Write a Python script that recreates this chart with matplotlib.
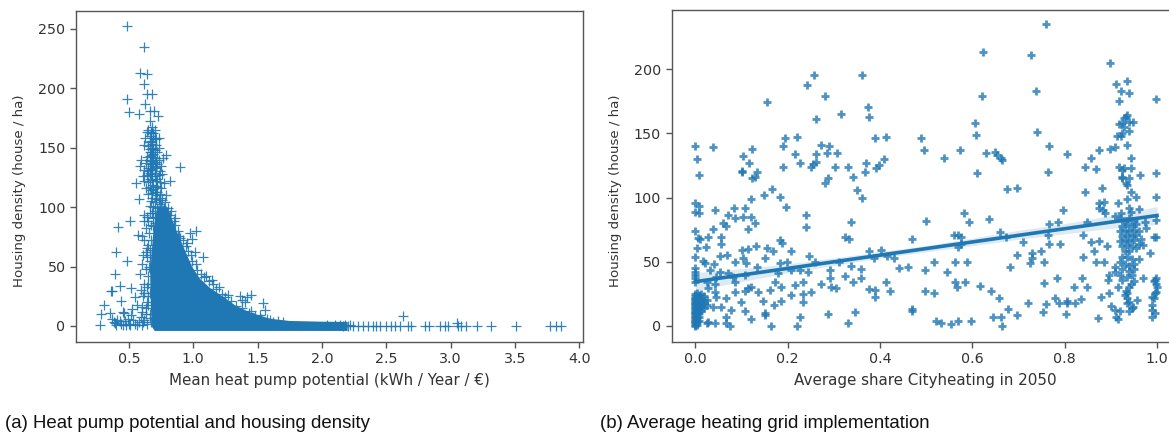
#! /usr/bin/env python

import numpy as np
import matplotlib
matplotlib.use("Agg")
import matplotlib.pyplot as plt

# ---- left chart, values (potential, density)
left_outliers = [
    (.485,252),(.614,234.6),(.588,212.5),(.64,211.7),(.614,203.5),(.485,191),(.64,195),(.676,195),
    (.622,187),(.498,179.7),(.578,178),(.661,181),(.697,181),(.726,177),(.661,172.7),(.64,163),
    (.674,162),(.622,158),(.733,158),(.7,158),(.614,152),(.661,155),(.785,144),(.661,146.6),
    (.687,149),(.765,141),(.899,133.7),(.596,139.6),(.588,135),(.557,120.5),(.817,122),(.578,106.8),
    (.79,110),(.615,93),(.51,88.6),(.417,83.5),(.57,76.5),(.402,62),(.485,55),(.392,44),(.583,44),
    (.428,34),(.363,29.7),(.368,29),(.519,31.7),(.545,24.7),(.44,21.3),(.306,17.7),(.285,9.8),
    (.454,12),(.465,11),(.35,10.7),(.272,.8),(.389,2.2),(.474,.8),(.519,9.2),(.596,7.8),(.61,25),
    (.636,15),(1.019,80),(.972,78),(.993,73),(1.01,62.5),(1.076,57.7),(1.148,38.7),(1.361,25),
    (1.38,22),(1.452,26),(1.42,24),(1.543,19),(1.556,13.5),(1.4,20),(.37,6),(.4,1),(.43,4),(.45,1),
    (.5,2),(.53,5),(.55,2),(.58,3),(.6,1),(.62,5),(.64,2),(.66,7),(.52,14),(.56,18),(.6,16),(.59,30),
    (.62,35),(.6,52),(.63,48),(.65,42),(.61,60),(.64,58),(.66,55),(.62,72),(.65,68),(.6,76),(.63,82),
    (.655,78),(.64,92),(.62,88),(.66,95),(.38,3),(.41,5),(.44,2),(.47,4),(.49,6),(.51,1),(.56,1),(.61,3),
    (.63,10),(.6,12),(.64,20),(.62,28),(.64,33),(.65,25),(.63,62),(.64,66),(.66,64),(.66,48),(.65,88),
]
left_column = [
    (.62,131),(.65,133),(.68,131),(.71,133),(.74,130),(.61,126),(.64,127),(.67,128),(.7,126),(.73,127),
    (.76,128),(.62,122),(.65,121),(.68,123),(.71,122),(.74,121),(.77,120),(.63,116),(.66,117),(.69,115),
    (.72,117),(.75,116),(.65,111),(.68,112),(.71,110),(.74,111),(.64,142),(.67,140),(.7,141),(.73,140),
    (.63,137),(.66,136),(.69,137),(.72,136),(.75,135),(.65,151),(.68,150),(.71,152),(.67,156),(.69,145),
    (.72,146),(.66,160),(.69,162),(.65,165),(.68,167),(.71,157),(.73,150),(.67,105),(.7,104),(.73,106),
    (.66,101),(.69,100),(.72,99),(.75,101),(.78,104),(.8,99),(.82,93),(.85,88),(.88,80),(.9,74),(.94,67),
    (.98,60),(1.02,52),(1.06,44),(1.12,38),(1.18,31),(1.25,24),(1.33,17),(1.43,11),(1.53,6),(1.62,3.5),
    (.66,129),(.68,126),(.7,129),(.72,124),(.66,124),(.69,119),(.71,118),(.67,114),(.7,113),(.72,113),
    (.68,108),(.71,107),(.74,108),(.76,106),(.66,139),(.68,135),(.7,134),(.67,132),(.65,130),(.69,142),
    (.71,138),(.67,146),(.7,148),(.68,144),(.66,143),(.68,153),(.66,149),(.69,158),(.67,163),(.7,165),
    (.74,103),(.77,99),(.79,95),(.83,97),(.86,85),(.89,76),(.7,97),(.68,95),(.7,92),(.67,85),(.69,84),
    (.92,72),(.96,63),(.99,55),(1.03,47),(1.08,41),(1.15,35),(1.22,27),(1.29,21),(1.38,15),(1.48,8),
    (.67,72),(.66,60),(.655,50),(.65,35),(.66,28),(.65,18),(.66,10),(.67,3),(.69,91),(.7,87),
    (1.57,6),(1.66,4),(1.6,5),(1.7,3),(1.45,13),(1.52,9),(1.27,26),(1.2,33),(1.1,42),(.95,70),(.86,91),
]
left_tail = [
    (2.04,1),(2.1,.5),(2.14,1),(2.164,0),(2.203,0),(2.18,1),(2.22,.5),
    (2.242,0),(2.28,0),(2.32,0),(2.358,0),(2.397,0),(2.423,0),(2.454,0),(2.5,0),(2.54,0),(2.566,0),
    (2.605,0),(2.67,0),(2.695,0),(2.799,0),(2.833,0),(2.916,0),(2.954,0),(2.98,0),(3.058,0),(3.084,0),
    (3.118,0),(3.209,0),(3.317,0),(3.507,0),(3.776,0),(3.823,0),(3.862,0),(2.63,8.4),(3.053,2.8),
]
# the markers overlap completely here, so the solid core is drawn as its outline
core_x = [.70,2.2,2.2,2.0,1.75,1.6,1.45,1.33,1.24,1.13,1.05,.99,.93,.87,.8,.72,.69,.675,.665,.67,.68]
core_y = [-4.2,-4.2,3.4,3.6,4.2,6,11,17,24,32,40,50,65,80,100,100,80,60,40,15,-1]

# ---- right chart, values (share, density)
right_pts = [
    (.256,195.6),(.242,187.5),(.361,195.6),(.281,179),(.156,174),(.374,170.7),(.315,165),(.377,162.6),
    (.262,161),(.193,146),(.219,147),(.39,146),(.413,147),(0,140),(.038,139),(.189,140),(.123,138),
    (.271,141),(.289,140),(.262,134),(.284,135),(.216,134),(.307,135),(.104,132),(.004,130),(.116,127),
    (.226,127),(.262,128),(.255,126),(.37,127),(.409,130),(.1,121),(.1,120),(.134,120),(.13,116),
    (.123,115),(.189,123.5),(.251,124),(.302,123.5),(.331,123.5),(.367,120),(.392,122.7),(.398,125),
    (.008,117.5),(.287,115.4),(.341,116),(.281,111),(.351,106),(.361,100),(.166,106.6),(.149,102),
    (.183,100.6),(.12,99),(0,95.5),(.008,93.6),(0,89),(.008,88),(.043,90.5),(.084,92),(.107,92),
    (.196,92.6),(.071,86),(.086,84),(.103,85),(.12,85),(.239,86),(.239,77),(.338,81),(.06,80),(.066,78),
    (.128,80),(.114,75.5),(.038,75.5),(0,74),(.006,68.7),(.009,68),(.027,69),(.055,69),(.055,64),
    (.183,67),(.187,64.6),(.323,69),(.333,67.7),(.469,67.7),(.022,61.7),(.004,60.4),(.101,59),(.114,60),
    (.132,62),(.154,61),(.168,58),(.206,58),(.375,58),(.401,59),(0,54),(.053,54.5),(.069,55),(.103,52.7),
    (.15,53),(.245,54.5),(.416,54.5),(.431,53),(.017,50.6),(.02,48.8),(.04,48),(.085,49.5),(.11,48.8),
    (.183,48.8),(.199,50),(.258,49.5),(.312,49.5),(.387,52.7),(.134,46),(.338,47),(.359,44),(.442,45),
    (.46,46),(0,44.9),(0,42.3),(0,39.7),(0,37),(0,34.5),(.031,43.6),(.053,42.3),(.071,41),(.107,39.7),
    (.179,41),(.208,43.6),(.226,43.6),(.244,42.3),(.291,43.6),(.325,39),(.292,37),(.359,37),(.045,38.4),
    (.082,38.4),(.024,34.5),(.042,33),(.085,34.5),(.121,30.6),(.172,34),(.233,34.5),(.341,34),(.413,34.5),
    (.113,29.3),(.186,30.6),(.161,28),(.215,32),(.271,32.4),(.294,30.6),(.305,29.3),(.377,28.8),(.421,27.5),
    (.388,28),(.042,26.7),(.085,26.7),(.027,29.3),(.136,26.2),(.208,24),(.251,26.2),(.389,22.8),(.233,24.6),
    (.107,27),(.067,22),(.045,22.8),(.098,19),(.146,19.5),(.185,19.5),(.233,19),(.17,16.3),(.039,14.5),
    (.056,15),(.078,12.5),(.107,11.7),(.15,8.6),(.15,9.9),(.287,9.6),(.345,11),(.226,7.3),(.47,13),(.47,11.7),
    (.066,7.3),(.027,3.4),(.024,2.6),(.043,2.6),(.121,5.2),(.33,2.6),(.067,2),(.074,.3),(.163,.3),(.219,.3),
    (.76,234.8),(.624,213.5),(.727,211),(.898,205),(.935,191),(.911,188.6),(.923,183),(.939,181),(.621,179),
    (.737,182.6),(.997,177),(.918,175),(.935,164),(.933,163),(.929,161.6),(.939,159),(.947,159),(.605,158),
    (.918,157),(.925,157.7),(.929,155),(.608,149),(.739,151),(.94,152),(.925,150),(.913,148),(.922,148),
    (.489,146),(.496,136.7),(.766,140),(.935,141),(.908,139),(.899,137.5),(.875,136.7),(.574,136.7),
    (.63,135),(.648,135.7),(.806,134),(.654,133),(.661,131),(.665,129.5),(.539,130.5),(.856,130.5),(.944,131),
    (.845,123.5),(.868,122.4),(.918,123.5),(.929,122.7),(.925,121.4),(.944,122.7),(.611,119),(.763,120),
    (.964,117.5),(.997,119),(.925,116),(.94,115.4),(.674,107),(.697,107.7),(.845,104.5),(.881,107.7),
    (.925,115),(.936,110),(.933,111),(.944,104.5),(.954,100.6),(.997,100.6),(.936,99),(.875,96),(.886,96.8),
    (.875,91.6),(.883,90),(.915,95.5),(.94,91.6),(.944,89),(.962,90.8),(.796,90.5),(.887,87.7),(.908,85.9),
    (.922,87.7),(.582,88),(.635,83),(.499,82),(.592,81),(.786,81),(.766,79),(.848,81),(.973,81),(.998,82.5),
    (.659,73),(.56,71),(.569,71),(.575,69.5),(.673,69),(.763,71),(.839,71),(.976,76),(.998,69.5),(.993,69.5),
    (.709,65.6),(.569,61.7),(.576,63.5),(.766,64),(.789,64),(.857,65.6),(.875,66),(.892,62),(.864,58),(.969,63),
    (.984,57),(.749,58),(.729,56.5),(.697,55),(.839,53.7),(.516,49.8),(.562,49.8),(.588,49.8),(.729,52.7),
    (.724,48.8),(.756,49.5),(.868,49.8),(.886,49.5),(.681,46),(.498,43.6),(.545,41.8),(.908,42.3),(.897,39.7),
    (.783,37),(.838,37),(.756,33.7),(.893,35.8),(.585,34.5),(.563,34),(.567,30.6),(.616,31),(.97,37),(.996,35.8),
    (.998,33),(.944,33),(.821,30),(.849,30),(.498,27.5),(.516,26),(.641,27.5),(.933,27.5),(.936,25.4),(.998,26.7),
    (.897,25.4),(.879,22.8),(.657,21.5),(.72,18),(.76,17),(.778,22),(.787,17.6),(.805,19.5),(.805,17.6),(.823,17.6),
    (.836,20.8),(.99,22.8),(.957,20),(.936,17.6),(.947,15),(.9,15.6),(.908,12.5),(.919,11.7),(.677,13.2),(.753,11),
    (.803,9.6),(.697,8.6),(.989,12.5),(.644,7.3),(.661,7.3),(.872,6),(.911,7.3),(.915,5.4),(.989,7.3),(.522,4.1),
    (.533,2.6),(.554,1.6),(.569,4.1),(.597,4.1),(.664,0),
]
right_cluster = [
    (.92,84),(.93,82),(.94,84),(.95,82),(.925,78),(.935,79),(.945,78),(.955,79),(.92,74),(.93,75),(.94,74),(.95,75),
    (.96,74),(.925,70),(.935,71),(.945,70),(.955,71),(.965,68),(.92,66),(.93,67),(.94,66),(.95,67),(.96,64),(.925,62),
    (.935,63),(.945,62),(.955,61),(.93,58),(.94,58),(.925,54),(.935,54),(.945,52),(.92,50),(.93,48),(.94,47),(.95,48),
    (.96,52),(.91,46),(.925,44),(.94,43),(.95,44),(.92,40),(.935,38),(.945,40),(.95,35),(.925,36),(.94,30),(.935,22),
    (.94,19),(.93,24),(.94,12),(.945,14),(.915,30),(.997,37),(.994,35),(.999,30),(.995,26),(.993,22),(.99,16),(.996,10),
]
right_zero = [
    (0,0),(0,1),(0,2),(0,3),(0,4),(0,5),(0,6),(0,7),(0,8),(0,9),(0,10),(0,11),(0,12),(0,13),(0,14),(0,15),(0,16),
    (0,17),(0,18),(0,19),(0,20),(0,21),(0,22),(0,23),(0,25),
    (.004,1),(.004,3),(.004,5),(.004,7),(.004,9),(.004,11),(.004,13),(.004,15),(.004,17),(.004,19),(.004,21),(.004,23),(.004,26),
    (.008,4),(.008,7),(.008,10),(.008,13),(.008,16),(.008,19),(.008,22),(.008,24),
    (.013,12),(.013,15),(.013,18),(.013,21),(.013,25),(.018,14),(.018,17),(.018,20),(.018,23),(.024,16),(.024,20),
]
reg_x = [0,1]
reg_y = [34.5,86]
band_x = [0,.1,.2,.3,.4,.5,.6,.7,.8,.9,1]
band_lo = [27.5,34.6,41.3,47,52.9,57.7,62.4,67.5,71.7,76,79]
band_hi = [41.5,44.6,48.3,53,57.9,62.7,68.4,74.5,79.7,86,93]

x_ticks_a = [0.5,1.0,1.5,2.0,2.5,3.0,3.5,4.0]
y_ticks_a = [0,50,100,150,200,250]
x_ticks_b = [0.0,0.2,0.4,0.6,0.8,1.0]
y_ticks_b = [0,50,100,150,200]

W, H = 1169, 432
blue = "#1f77b4"
grey = "#333333"
plt.rcParams["font.family"] = ["DejaVu Sans"]

fig = plt.figure(figsize=(W/100, H/100), dpi=100)


def make_axes(left, right, top, bottom):
    ax = fig.add_axes([left/W, 1-bottom/H, (right-left)/W, (bottom-top)/H])
    for s in ax.spines.values():
        s.set_color("#555555")
        s.set_linewidth(1.0)
    ax.tick_params(labelsize=10.3, colors=grey, length=4, width=1.0, color="#555555")
    return ax


ax1 = make_axes(76, 583, 11, 342)
ax1.fill(core_x, core_y, color=blue, lw=0)
pts = np.array(left_outliers+left_column+left_tail)
ax1.scatter(pts[:,0], pts[:,1], marker="+", s=52, linewidths=0.9, color=blue, alpha=0.9)
ax1.set_xlim(0.088, 4.03)
ax1.set_ylim(-13.5, 265)
ax1.set_xticks(x_ticks_a)
ax1.set_yticks(y_ticks_a)

ax2 = make_axes(671.5, 1181, 10, 342)
pts = np.array(right_pts+right_cluster+right_zero)
ax2.scatter(pts[:,0], pts[:,1], marker="+", s=36, linewidths=2.0, color=blue, alpha=0.8)
ax2.fill_between(band_x, band_lo, band_hi, color=blue, alpha=0.15, lw=0)
ax2.plot(reg_x, reg_y, color=blue, lw=2.6)
ax2.set_xlim(-0.052, 1.052)
ax2.set_ylim(-12.5, 246)
ax2.set_xticks(x_ticks_b)
ax2.set_yticks(y_ticks_b)

fig.text(329/W, 1-380/H, "Mean heat pump potential (kWh / Year / €)", ha="center", va="center", fontsize=10.9, color=grey)
fig.text(925/W, 1-380/H, "Average share Cityheating in 2050", ha="center", va="center", fontsize=10.9, color=grey)
fig.text(20/W, 1-191/H, "Housing density (house / ha)", rotation=90, ha="center", va="center", fontsize=9.6, color=grey)
fig.text(615/W, 1-191/H, "Housing density (house / ha)", rotation=90, ha="center", va="center", fontsize=9.6, color=grey)
fig.text(5/W, 1-423/H, "(a) Heat pump potential and housing density", ha="left", va="center",
         fontsize=13.4, family="Liberation Sans", color="#111111")
fig.text(600/W, 1-423/H, "(b) Average heating grid implementation", ha="left", va="center",
         fontsize=13.4, family="Liberation Sans", color="#111111")

fig.savefig("out.png", dpi=100)
